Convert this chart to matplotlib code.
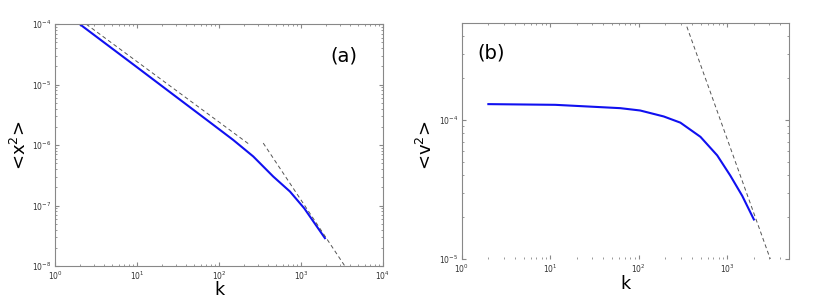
import numpy as np
import matplotlib
matplotlib.use("Agg")
import matplotlib.pyplot as plt

# panel (a): <x^2> vs k
k_a = [2, 10, 30, 70.8, 149, 262, 459, 735, 1100, 1963]
x2_a = [1.0e-4, 1.94e-5, 6.3e-6, 2.62e-6, 1.22e-6, 6.5e-7, 3.03e-7, 1.71e-7, 9.0e-8, 2.9e-8]
# guide lines (a)
guide1_k = [2.4, 239]
guide1_y = [1.0e-4, 1.01e-6]
guide2_k = [347, 3440]
guide2_y = [1.08e-6, 1.0e-8]

# panel (b): <v^2> vs k
k_b = [2, 11.4, 62, 104, 192, 296, 499, 772, 1085, 1482, 2005]
v2_b = [1.30e-4, 1.285e-4, 1.216e-4, 1.17e-4, 1.06e-4, 9.57e-5, 7.57e-5,
        5.57e-5, 3.99e-5, 2.85e-5, 1.93e-5]
guide3_k = [330, 3080]
guide3_y = [5.2e-4, 1.0e-5]

blue = "#1010f0"
gray = "#555555"
spine_col = "#888888"

fig = plt.figure(figsize=(8.3, 2.98), dpi=100)
ax1 = fig.add_axes([0.0663, 0.107, 0.395, 0.812])
ax2 = fig.add_axes([0.5563, 0.130, 0.3943, 0.794])

for ax in (ax1, ax2):
    ax.set_xscale("log")
    ax.set_yscale("log")
    ax.tick_params(which="both", direction="in", top=True, right=True,
                   labelsize=5.5, colors="#333333")
    ax.tick_params(axis="x", pad=2.5)
    ax.tick_params(axis="y", pad=2.5)
    ax.tick_params(which="major", length=3, color=spine_col)
    ax.tick_params(which="minor", length=1.5, color=spine_col)
    for s in ax.spines.values():
        s.set_color(spine_col)
        s.set_linewidth(0.8)

# (a)
ax1.plot(k_a, x2_a, color=blue, lw=1.5)
ax1.plot(guide1_k, guide1_y, color=gray, lw=0.7, ls=(0, (4, 3)))
ax1.plot(guide2_k, guide2_y, color=gray, lw=0.7, ls=(0, (4, 3)))
ax1.set_xlim(1, 1e4)
ax1.set_ylim(1e-8, 1e-4)
ax1.set_xlabel("k", fontsize=12.5)
ax1.set_ylabel("<x$^2$>", fontsize=13)
ax1.xaxis.set_label_coords(0.5, -0.06)
ax1.yaxis.set_label_coords(-0.075, 0.5)
ax1.text(0.88, 0.87, "(a)", transform=ax1.transAxes, fontsize=14,
         ha="center", va="center")

# (b)
ax2.plot(k_b, v2_b, color=blue, lw=1.5)
ax2.plot(guide3_k, guide3_y, color=gray, lw=0.7, ls=(0, (4, 3)))
ax2.set_xlim(1, 5000)
ax2.set_ylim(1e-5, 5e-4)
ax2.spines["bottom"].set_visible(False)
ax2.set_xlabel("k", fontsize=12.5)
ax2.set_ylabel("<v$^2$>", fontsize=13)
ax2.xaxis.set_label_coords(0.5, -0.065)
ax2.yaxis.set_label_coords(-0.08, 0.48)
ax2.text(0.09, 0.87, "(b)", transform=ax2.transAxes, fontsize=14,
         ha="center", va="center")

fig.savefig("out.png", dpi=100)
